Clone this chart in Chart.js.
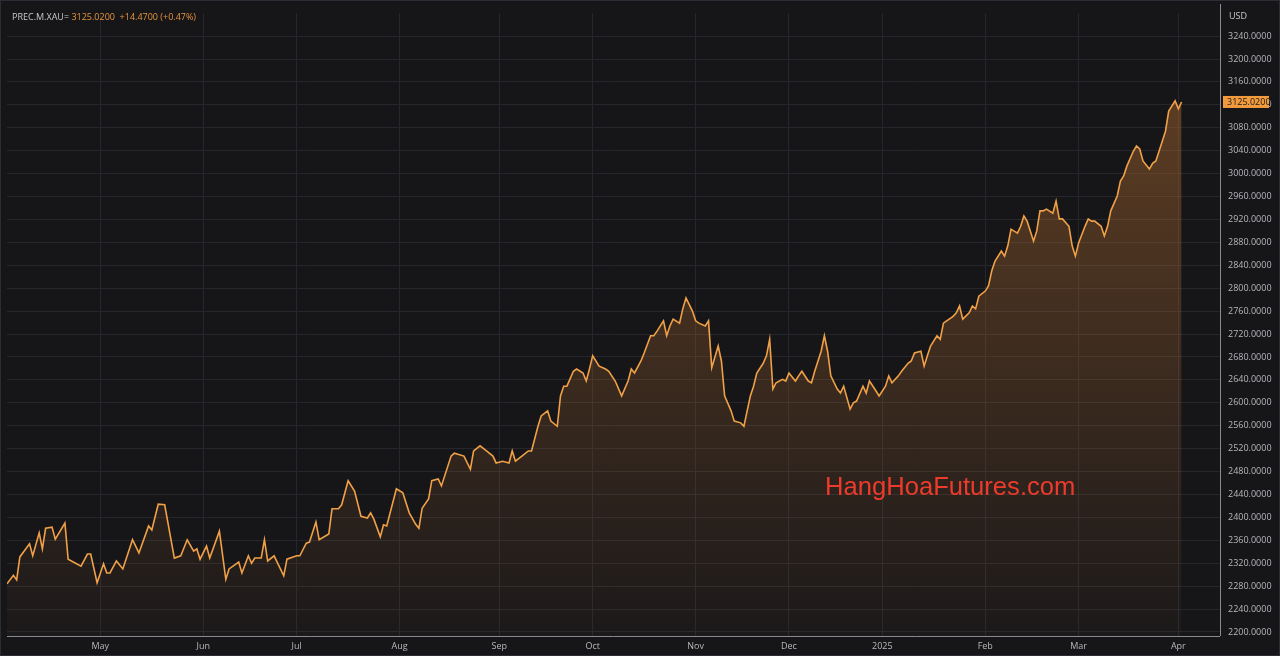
<!DOCTYPE html>
<html><head><meta charset="utf-8">
<script src="https://cdn.jsdelivr.net/npm/chart.js@4/dist/chart.umd.min.js"></script>
<style>
html,body{margin:0;padding:0;background:#161619;overflow:hidden}
#wrap{position:relative;width:1280px;height:656px}
#wm{position:absolute;left:825px;top:472px;font:25.6px "Liberation Sans",Arial,sans-serif;color:#ec3b2c;letter-spacing:0}
</style></head><body>
<div id="wrap"><canvas id="c" width="1280" height="656"></canvas><div id="wm">HangHoaFutures.com</div></div>
<script>
// day index from 2 Apr 2024
const days=[0,2,3,4,7,8,10,11,12,14,15,18,19,23,25,26,28,30,31,32,34,36,39,41,44,45,47,49,52,54,56,58,59,60,62,63,66,68,69,72,73,75,76,77,79,80,81,83,86,87,90,91,93,94,96,97,100,101,103,104,106,108,110,112,113,114,116,117,118,121,123,125,127,128,129,131,132,134,135,138,139,142,144,145,147,149,151,152,154,156,157,158,160,162,163,165,166,168,169,171,172,173,174,176,177,179,180,181,182,184,186,187,189,191,193,194,195,197,198,200,201,202,204,205,206,207,209,210,211,213,214,215,217,218,219,221,222,223,225,226,228,229,231,232,233,235,236,237,238,239,241,242,243,245,246,247,249,250,251,253,254,255,256,258,259,260,262,263,264,266,267,268,270,271,273,274,275,277,278,280,281,282,284,285,286,287,289,290,291,292,294,295,296,297,299,300,301,302,304,305,306,307,309,310,311,312,314,315,316,317,319,320,321,322,323,325,326,327,328,330,331,332,333,335,336,337,338,340,341,342,343,345,346,347,348,350,351,352,353,355,356,357,358,360,361,363,364,365];
const prices=[2284,2299,2291,2331,2354,2333,2373,2345,2381,2383,2362,2390,2327,2315,2336,2336,2286,2319,2303,2303,2324,2310,2361,2338,2385,2378,2423,2422,2329,2333,2361,2341,2345,2327,2350,2329,2376,2292,2310,2322,2303,2333,2320,2329,2329,2361,2324,2333,2298,2327,2333,2333,2355,2357,2392,2361,2371,2415,2415,2422,2464,2446,2402,2399,2408,2397,2366,2387,2385,2450,2443,2408,2388,2381,2416,2432,2464,2467,2455,2507,2512,2507,2484,2516,2525,2516,2507,2495,2498,2495,2516,2498,2507,2516,2516,2559,2577,2586,2568,2559,2612,2629,2629,2655,2659,2652,2638,2659,2682,2664,2659,2655,2638,2612,2638,2659,2652,2673,2687,2717,2717,2725,2743,2717,2734,2746,2739,2764,2783,2760,2743,2739,2734,2743,2661,2699,2673,2612,2586,2568,2565,2559,2612,2629,2652,2669,2682,2711,2624,2635,2641,2638,2652,2638,2647,2655,2638,2635,2655,2690,2717,2690,2647,2624,2617,2629,2589,2600,2603,2629,2617,2638,2621,2612,2629,2647,2635,2647,2655,2669,2673,2687,2690,2664,2682,2699,2717,2711,2739,2743,2751,2757,2769,2746,2757,2769,2764,2786,2795,2804,2830,2847,2865,2856,2874,2903,2896,2908,2926,2917,2882,2900,2935,2935,2938,2931,2952,2921,2921,2908,2874,2856,2879,2908,2921,2917,2917,2908,2891,2908,2935,2961,2987,2996,3013,3039,3048,3043,3022,3008,3018,3022,3039,3074,3109,3127,3113,3125.02];
const monthDays=[29,61,90,122,153,182,214,243,272,304,333,364];
const monthLabels=["May","Jun","Jul","Aug","Sep","Oct","Nov","Dec","2025","Feb","Mar","Apr"];
const yTicks=[];for(let v=2200;v<=3240;v+=40)yTicks.push(v);
const lastPrice=3125.02, change="+14.4700", changePct="(+0.47%)", symbol="PREC.M.XAU=";

const extras={id:'extras',afterDraw(ch){
  const c=ch.ctx,y=ch.scales.y,a=ch.chartArea;
  c.save();
  c.font='9px "Open Sans",sans-serif';c.textBaseline='middle';
  c.fillStyle='#c8c8c8';c.fillText('USD',1229,16);
  const py=y.getPixelForValue(lastPrice);
  c.fillStyle='#f29b3c';c.fillRect(1223,py-6,46,12);
  c.fillStyle='#1a1a1a';c.fillText(lastPrice.toFixed(4),1227,py+0.5);
  c.fillStyle='#c8c8c8';c.fillText(symbol,12,17);
  const w=c.measureText(symbol+' ').width;
  c.fillStyle='#e8953c';c.fillText(lastPrice.toFixed(4)+'  '+change+' '+changePct,12+w,17);
  c.strokeStyle='#8a8a90';c.lineWidth=1;
  c.beginPath();c.moveTo(a.right+0.5,4);c.lineTo(a.right+0.5,a.bottom);c.stroke();
  c.beginPath();c.moveTo(a.left,a.bottom+0.5);c.lineTo(a.right,a.bottom+0.5);c.stroke();
  c.restore();
}};
const bg={id:'bg',beforeDraw(ch){const c=ch.ctx;c.save();c.fillStyle='#161619';c.fillRect(0,0,1280,656);
  c.strokeStyle='#2c2c34';c.strokeRect(0.5,0.5,1279,655);c.restore();}};

const ctx=document.getElementById('c').getContext('2d');
new Chart(ctx,{type:'line',
 data:{datasets:[{data:days.map((d,i)=>({x:d,y:prices[i]})),borderColor:'#f0a046',borderWidth:1.6,pointRadius:0,tension:0,fill:'start',
  backgroundColor:(cx)=>{const a=cx.chart.chartArea;if(!a)return 'rgba(0,0,0,0)';const g=cx.chart.ctx.createLinearGradient(0,a.top,0,a.bottom);
   g.addColorStop(0,'rgba(200,120,50,0.45)');g.addColorStop(1,'rgba(200,120,50,0.03)');return g;}}]},
 options:{responsive:false,animation:false,devicePixelRatio:1,
  layout:{padding:{left:7,top:8,right:0,bottom:0}},
  plugins:{legend:{display:false},tooltip:{enabled:false}},
  scales:{
   x:{type:'linear',min:0,max:(1220-7)/3.218,
     afterBuildTicks:s=>{s.ticks=monthDays.map(v=>({value:v}));},
     afterFit:s=>{s.height=20;},
     grid:{color:'#26262d',drawTicks:false},border:{display:false},
     ticks:{callback:(v)=>monthLabels[monthDays.indexOf(v)]??'',color:'#b8b8bc',font:{size:9,family:'"Open Sans",sans-serif'},padding:5,maxRotation:0,autoSkip:false}},
   y:{position:'right',min:2193,max:3279.6,
     afterBuildTicks:s=>{s.ticks=yTicks.map(v=>({value:v}));},
     afterFit:s=>{s.width=60;},
     grid:{color:'#26262d',drawTicks:false},border:{display:false},
     ticks:{callback:v=>v.toFixed(4),color:'#b8b8bc',font:{size:9,family:'"Open Sans",sans-serif'},padding:8}}
  }},
 plugins:[bg,extras]});
</script></body></html>
